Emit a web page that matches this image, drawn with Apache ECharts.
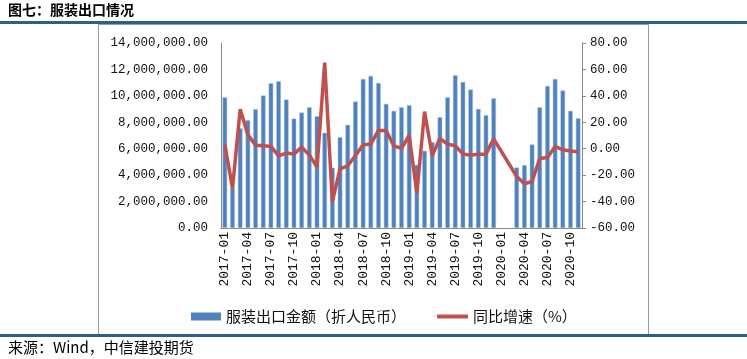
<!DOCTYPE html>
<html>
<head>
<meta charset="utf-8">
<script src="https://cdn.jsdelivr.net/npm/echarts@6/dist/echarts.min.js"></script>
<style>
  html, body { margin: 0; padding: 0; background: #fff; }
  #chart { width: 747px; height: 359px; }
</style>
</head>
<body>
<div id="chart"></div>
<script>
// 月份 2017-01 ~ 2020-11（2020-01、02 无数据）
const months = [
  '2017-01','2017-02','2017-03','2017-04','2017-05','2017-06','2017-07','2017-08','2017-09','2017-10','2017-11','2017-12',
  '2018-01','2018-02','2018-03','2018-04','2018-05','2018-06','2018-07','2018-08','2018-09','2018-10','2018-11','2018-12',
  '2019-01','2019-02','2019-03','2019-04','2019-05','2019-06','2019-07','2019-08','2019-09','2019-10','2019-11','2019-12',
  '2020-01','2020-02','2020-03','2020-04','2020-05','2020-06','2020-07','2020-08','2020-09','2020-10','2020-11'
]

// 服装出口金额（折人民币）
const exportValue = [
  9900000, 3050000, 7550000, 8160000, 8990000, 10020000, 10950000, 11100000, 9720000, 8280000, 8740000, 9140000,
  8460000, 7200000, 4560000, 6870000, 7810000, 9570000, 11280000, 11510000, 10980000, 9390000, 8860000, 9140000,
  9290000, 4780000, 5840000, 6500000, 8390000, 9900000, 11560000, 11050000, 10480000, 9010000, 8540000, 9820000,
  null, null, 4580000, 4760000, 6320000, 9140000, 10750000, 11280000, 10400000, 8860000, 8310000
]

// 同比增速（%）
const yoyGrowth = [
  2.9, -29.8, 29.9, 10.5, 2.7, 2.2, 1.7, -5.4, -3.3, -4.1, 1.2, -4.7,
  -13.9, 65.1, -40.1, -15.2, -12.9, -5.1, 2.9, 3.5, 13.8, 13.8, 2.2, 0.2,
  10.0, -33.6, 28.1, -5.1, 7.7, 3.5, 2.2, -3.9, -4.9, -4.1, -4.1, 7.5,
  null, null, -21.0, -26.5, -24.8, -7.4, -6.6, 1.7, -0.8, -1.8, -2.3
]

const seriesNames = ['服装出口金额（折人民币）', '同比增速（%）']

const numFont = 'Liberation Mono'
const cjkFont = 'Noto Sans CJK SC'

function fmtMoney(v) {
  return v.toFixed(2).replace(/\B(?=(\d{3})+(?!\d))/g, ',')
}

const myChart = echarts.init(document.getElementById('chart'))

const legendText = { fontFamily: cjkFont, fontSize: 15, color: '#111' }

myChart.setOption({
  animation: false,
  graphic: [
    // 外框
    {
      type: 'rect', z: -10,
      shape: { x: 98.5, y: 24.5, width: 550, height: 310 },
      style: { fill: 'none', stroke: '#9a9a9a', lineWidth: 1 }
    },
    // 上下蓝线
    {
      type: 'rect', z: -5,
      shape: { x: 0, y: 21, width: 747, height: 3 },
      style: { fill: '#2f5d8c' }
    },
    {
      type: 'rect', z: -5,
      shape: { x: 0, y: 334, width: 747, height: 3 },
      style: { fill: '#2f5d8c' }
    },
    {
      type: 'text', left: 8, top: 3,
      style: { text: '图七：服装出口情况', font: 'bold 14px "Noto Sans CJK SC"', fill: '#000' }
    },
    {
      type: 'text', left: 8, top: 340,
      style: { text: '来源：Wind，中信建投期货', font: '15px "Noto Sans CJK SC"', fill: '#000' }
    }
  ],
  legend: [
    {
      data: [{ name: seriesNames[0], icon: 'rect', itemStyle: { color: '#4f81bd', borderWidth: 0 } }],
      left: 186,
      top: 304,
      itemWidth: 30,
      itemHeight: 8,
      textStyle: legendText
    },
    {
      data: [{ name: seriesNames[1], icon: 'roundRect' }],
      left: 432,
      top: 304,
      itemWidth: 31,
      itemHeight: 4,
      textStyle: legendText
    }
  ],
  grid: {
    left: 221,
    right: 165,
    top: 43,
    bottom: 131,
    containLabel: false
  },
  xAxis: [
    {
      type: 'category',
      data: months,
      boundaryGap: true,
      axisLine: { lineStyle: { color: '#888', width: 1 } },
      axisTick: { show: false },
      axisLabel: {
        interval: 2,
        rotate: 90,
        margin: 4,
        fontFamily: numFont,
        fontSize: 13,
        color: '#111'
      }
    }
  ],
  yAxis: [
    {
      type: 'value',
      min: 0,
      max: 14000000,
      interval: 2000000,
      axisLine: { show: true, lineStyle: { color: '#888' } },
      axisTick: { show: false },
      splitLine: { show: false },
      axisLabel: {
        margin: 13,
        fontFamily: numFont,
        fontSize: 12.5,
        color: '#111',
        formatter: fmtMoney
      }
    },
    {
      type: 'value',
      min: -60,
      max: 80,
      interval: 20,
      position: 'right',
      axisLine: { show: true, lineStyle: { color: '#888' } },
      axisTick: { show: true, inside: false, length: 4, lineStyle: { color: '#888' } },
      splitLine: { show: false },
      axisLabel: {
        margin: 8,
        fontFamily: numFont,
        fontSize: 12.5,
        color: '#111',
        formatter: function (v) { return v.toFixed(2) }
      }
    }
  ],
  series: [
    {
      name: seriesNames[0],
      type: 'bar',
      yAxisIndex: 0,
      data: exportValue,
      barWidth: '60%',
      itemStyle: { color: '#4f81bd', borderColor: '#a9c0de', borderWidth: 0.5 }
    },
    {
      name: seriesNames[1],
      type: 'line',
      yAxisIndex: 1,
      data: yoyGrowth,
      symbol: 'none',
      connectNulls: true,
      lineStyle: { color: '#c0504d', width: 3.5 },
      itemStyle: { color: '#c0504d' }
    }
  ]
})
</script>
</body>
</html>
